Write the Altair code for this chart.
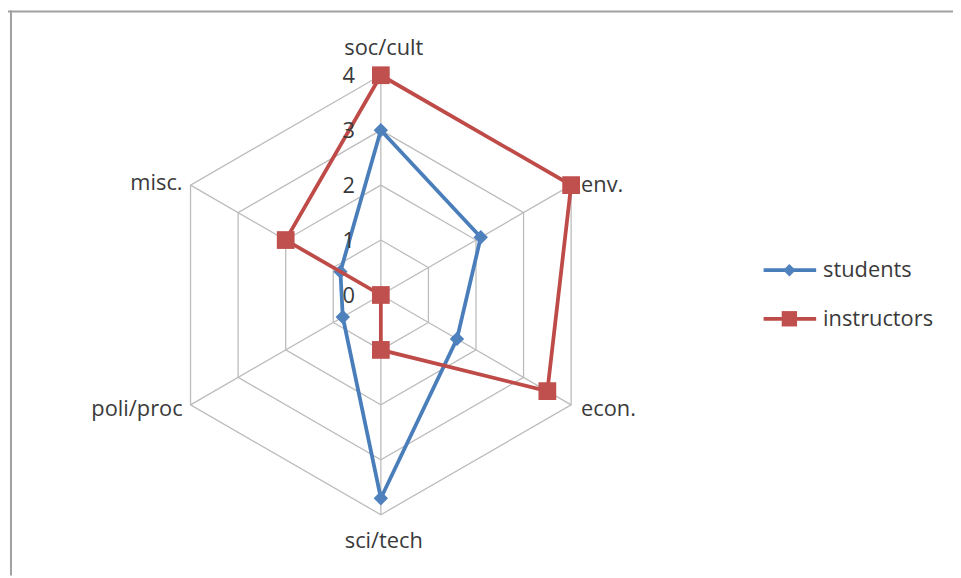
import altair as alt
import pandas as pd

# ---- data ----
categories = ["soc/cult", "env.", "econ.", "sci/tech", "poli/proc", "misc."]
students = [3.0, 2.1, 1.6, 3.7, 0.8, 0.85]
instructors = [4.0, 4.0, 3.5, 1.0, 0.0, 2.0]
series_names = ["students", "instructors"]
tick_values = [0, 1, 2, 3, 4]

n = len(categories)
FONT = "Open Sans"
FS = 22
TXT = "#3a3a3a"
GRID = "#bcbcbc"
line_colors = {"students": "#4A7EBB", "instructors": "#BE4B48"}
fill_colors = {"students": "#4F81BD", "instructors": "#C0504D"}
shapes = {"students": "diamond", "instructors": "square"}
sizes = {"students": 210, "instructors": 320}

# tables built from the lists
rows = []
for name, vals in zip(series_names, [students, instructors]):
    for k in range(n + 1):
        i = k % n
        rows.append({"series": name, "category": categories[i], "idx": i,
                     "order": k, "value": vals[i]})
df = pd.DataFrame(rows)

ring_rows = [{"ring": r, "idx": k % n, "order": k, "value": r}
             for r in tick_values[1:] for k in range(n + 1)]
ring_df = pd.DataFrame(ring_rows)
spoke_df = pd.DataFrame({"idx": list(range(n)), "value": [max(tick_values)] * n})
cat_df = pd.DataFrame({"category": categories, "idx": list(range(n)),
                       "value": [max(tick_values)] * n})
tick_df = pd.DataFrame({"value": tick_values, "label": [str(t) for t in tick_values]})

W, H = 953, 570
CX, CY, R = 376, 287, 221.6
xs = alt.Scale(domain=[-4, 4], range=[CX - R, CX + R], nice=False, zero=False)
ys = alt.Scale(domain=[-4, 4], range=[CY + R, CY - R], nice=False, zero=False)

XE = "datum.value * sin(datum.idx * PI / 3)"
YE = "datum.value * cos(datum.idx * PI / 3)"


def polar(ch):
    return ch.transform_calculate(px=XE, py=YE)


X = alt.X("px:Q", scale=xs, axis=None)
Y = alt.Y("py:Q", scale=ys, axis=None)

layers = []

# hexagonal grid rings
layers.append(polar(alt.Chart(ring_df).mark_line(color=GRID, strokeWidth=1.3)).encode(
    x=X, y=Y, detail="ring:N", order="order:Q"))

# spokes
layers.append(polar(alt.Chart(spoke_df).mark_rule(color=GRID, strokeWidth=1.3))
              .transform_calculate(zx="0", zy="0").encode(
    x=alt.X("zx:Q", scale=xs, axis=None), y=alt.Y("zy:Q", scale=ys, axis=None),
    x2="px:Q", y2="py:Q"))

# series lines and markers
for name in series_names:
    sub = df[df["series"] == name]
    layers.append(polar(alt.Chart(sub).mark_line(color=line_colors[name], strokeWidth=3.8))
                  .encode(x=X, y=Y, order="order:Q"))
    layers.append(polar(alt.Chart(sub[sub["order"] < n]).mark_point(
        shape=shapes[name], size=sizes[name], filled=True, opacity=1,
        color=fill_colors[name])).encode(x=X, y=Y))

# tick labels on the top axis
layers.append(alt.Chart(tick_df).mark_text(
    align="right", baseline="middle", dx=-26, dy=1, font=FONT, fontSize=FS, color=TXT
).transform_calculate(zx="0").encode(
    x=alt.X("zx:Q", scale=xs, axis=None), y=alt.Y("value:Q", scale=ys, axis=None),
    text="label:N"))

# category labels
label_style = {
    0: dict(align="center", dx=3, dy=-27),
    1: dict(align="left", dx=10, dy=0),
    2: dict(align="left", dx=10, dy=4),
    3: dict(align="center", dx=3, dy=27),
    4: dict(align="right", dx=-8, dy=4),
    5: dict(align="right", dx=-8, dy=-2),
}
for i in range(n):
    st = label_style[i]
    layers.append(polar(alt.Chart(cat_df[cat_df["idx"] == i]).mark_text(
        baseline="middle", font=FONT, fontSize=FS, color=TXT, **st)).encode(
        x=X, y=Y, text="category:N"))

# legend (decoration)
for j, name in enumerate(series_names):
    ly = 262 + j * 49
    sdf = pd.DataFrame({"series": [name]})
    layers.append(alt.Chart(sdf).mark_rule(color=line_colors[name], strokeWidth=3.8).encode(
        x=alt.value(762), x2=alt.value(815), y=alt.value(ly)))
    layers.append(alt.Chart(sdf).mark_point(
        shape=shapes[name], size=sizes[name] * 0.75, filled=True, opacity=1,
        color=fill_colors[name]).encode(x=alt.value(788), y=alt.value(ly)))
    layers.append(alt.Chart(sdf).mark_text(
        align="left", baseline="middle", font=FONT, fontSize=FS, color=TXT).encode(
        x=alt.value(822), y=alt.value(ly), text="series:N"))

# chart border (top and left, as in the reference)
bdf = pd.DataFrame({"a": [0]})
layers.append(alt.Chart(bdf).mark_rule(color="#a0a0a0", strokeWidth=2).encode(
    x=alt.value(0), x2=alt.value(W), y=alt.value(1)))
layers.append(alt.Chart(bdf).mark_rule(color="#a0a0a0", strokeWidth=2).encode(
    x=alt.value(3), y=alt.value(0), y2=alt.value(H)))

chart = alt.layer(*layers).properties(
    width=W, height=H, padding=0, autosize=alt.AutoSizeParams(type="none"),
    background="white"
).configure_view(stroke=None)

chart.save("out.html", embed_options={"renderer": "svg", "actions": False})
